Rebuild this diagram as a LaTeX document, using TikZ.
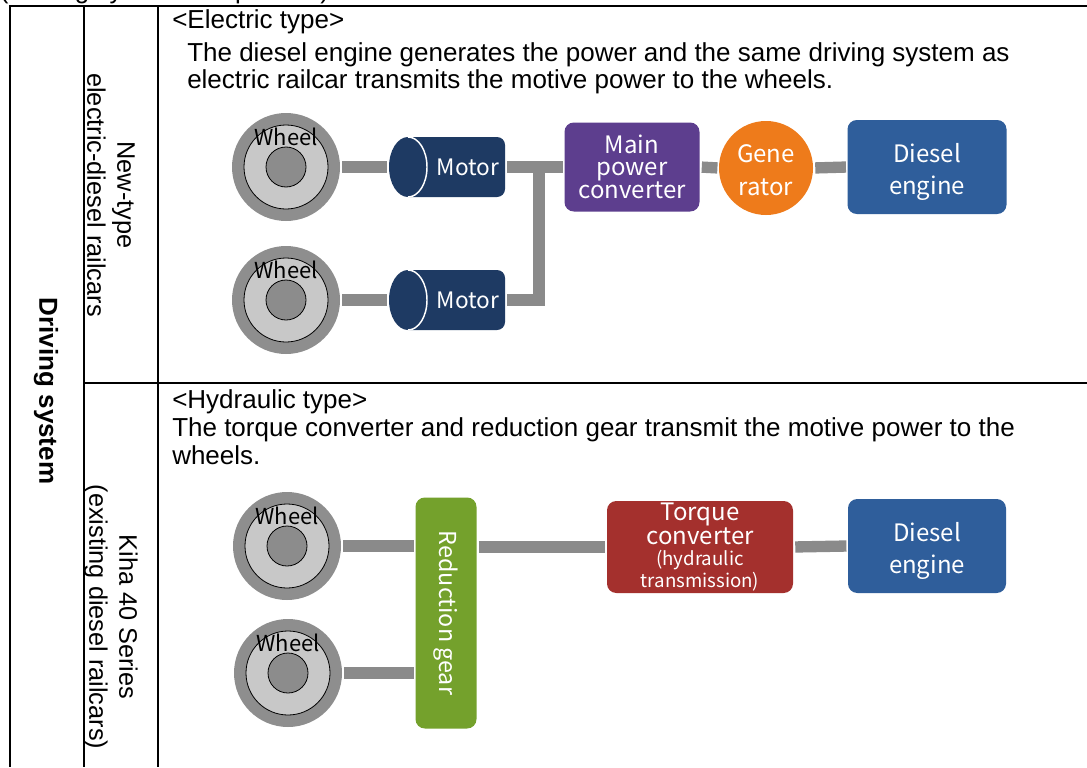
\documentclass[tikz,border=0pt]{standalone}
\usepackage{fontspec}
\setmainfont{Liberation Sans}
\newfontfamily\dfont{Noto Sans CJK JP}
\usetikzlibrary{calc}
\definecolor{navyc}{HTML}{1E3A63}
\definecolor{purplec}{HTML}{5D3E8E}
\definecolor{orangec}{HTML}{EE7B1B}
\definecolor{bluec}{HTML}{2F5E9B}
\definecolor{redc}{HTML}{A4302D}
\definecolor{greenc}{HTML}{74A12C}
\definecolor{wheelout}{HTML}{8E8E8E}
\definecolor{wheelin}{HTML}{C8C8C8}
\definecolor{hubc}{HTML}{8C8C8C}
\definecolor{barc}{HTML}{8A8A8A}
\newcommand\mkwheel[3]{%
  \node[wheelnode] (#1) at (#2,#3) {};
  \filldraw[fill=wheelin, draw=black, line width=0.6pt] (#1.center) circle[radius=42];
  \filldraw[fill=hubc, draw=black, line width=0.6pt] (#1.center) circle[radius=20];
  \node[wlbl] (#1l) at ([yshift=22.5pt]#1.center) {Wheel};
}
\newcommand\motorshape[1]{%
  \begin{scope}[shift={(#1.center)}]
    \fill[navyc] (-39,-30) -- (50,-30) arc[start angle=-90,end angle=0,radius=8]
      -- (58,22) arc[start angle=0,end angle=90,radius=8]
      -- (-39,30) arc[start angle=90,end angle=270,x radius=19,y radius=30] -- cycle;
    \draw[white, line width=1.1pt] (-39,-30) arc[start angle=-90,end angle=90,x radius=19,y radius=30];
  \end{scope}
}
\begin{document}
\begin{tikzpicture}[x=0.75pt,y=-0.75pt,
  tline/.style={line width=1.5pt, draw=black},
  txt/.style={anchor=base west, inner sep=0pt, font=\fontsize{19.5pt}{22pt}\selectfont},
  side/.style={rotate=-90, inner sep=0pt, align=center, font=\fontsize{19pt}{22.5pt}\selectfont},
  bar/.style={line width=8.5pt, draw=barc},
  gapbar/.style={bar, shorten <=1.5pt, shorten >=1pt},
  wheelnode/.style={circle, fill=wheelout, minimum size=81pt, inner sep=0pt},
  wlbl/.style={inner sep=0pt, text=black, font=\dfont\fontsize{16.5pt}{18pt}\selectfont},
  motorbox/.style={minimum width=87pt, minimum height=45pt, inner sep=0pt},
  lbl/.style={inner sep=0pt, text=white, align=center},
  boxnode/.style={rounded corners=7pt, inner sep=0pt, text=white, align=center},
]
\useasboundingbox (0,0) rectangle (1087,767);
\fill[white] (0,0) rectangle (1087,767);

% partially visible title
\node[txt] (title) at (-0.5,-1) {(Driving system comparison)};

% table
\draw[tline] (9.5,5.5) -- (9.5,767);
\draw[tline] (8.75,6) -- (1087,6);
\draw[tline] (84,6) -- (84,767);
\draw[tline] (158,6) -- (158,767);
\draw[tline] (84,383) -- (1087,383);

% left column texts
\node[side, font=\bfseries\fontsize{19.5pt}{22.5pt}\selectfont] (ds) at (46,391) {Driving system};
\node[side] (nt) at (111,195) {New-type\\electric-diesel railcars};
\node[side] (k40) at (111,617) {Kiha 40 Series\\(existing diesel railcars)};

% body texts
\node[txt] (et) at (172,29) {<Electric type>};
\node[txt] (et1) at (187,61) {The diesel engine generates the power and the same driving system as};
\node[txt] (et2) at (187,89) {electric railcar transmits the motive power to the wheels.};
\node[txt] (ht) at (172,408) {<Hydraulic type>};
\node[txt] (ht1) at (172,436) {The torque converter and reduction gear transmit the motive power to the};
\node[txt] (ht2) at (172,464) {wheels.};

% ---------- electric type diagram ----------
\mkwheel{w1}{286}{167}
\mkwheel{w2}{286}{300}

\node[motorbox] (m1) at (447,167) {};
\motorshape{m1}
\node[lbl, font=\dfont\fontsize{17pt}{20pt}\selectfont] (m1t) at ([xshift=15.75pt]m1.center) {Motor};
\node[motorbox] (m2) at (447,300) {};
\motorshape{m2}
\node[lbl, font=\dfont\fontsize{17pt}{20pt}\selectfont] (m2t) at ([xshift=15.75pt]m2.center) {Motor};

\node[boxnode, fill=purplec, minimum width=101.25pt, minimum height=66.75pt,
      font=\dfont\fontsize{18pt}{16.5pt}\selectfont] (conv) at (632,167) {Main\\power\\converter};
\node[circle, fill=orangec, minimum size=70.5pt, inner sep=0pt] (gen) at (766,168) {};
\node[lbl, font=\dfont\fontsize{18pt}{25pt}\selectfont] (gent) at ([yshift=-1.5pt]gen.center) {Gene\\rator};
\node[boxnode, fill=bluec, minimum width=119.25pt, minimum height=70.5pt] (de1) at (927,167) {};
\node[lbl, font=\dfont\fontsize{18pt}{24pt}\selectfont] (de1t) at ([yshift=-3.75pt]de1.center) {Diesel\\engine};

\coordinate (j) at (539,167);
\draw[gapbar] (w1.east) -- (m1.west);
\draw[gapbar] (w2.east) -- (m2.west);
\draw[gapbar] (m1.east) -- (conv.west);
\draw[bar, shorten <=1.5pt] (m2.east) -| (j);
\draw[gapbar] (conv.east) -- (gen.west);
\draw[gapbar] (gen.east) -- (de1.west);

% ---------- hydraulic type diagram ----------
\mkwheel{w3}{287}{546}
\mkwheel{w4}{288}{673}

\node[boxnode, fill=greenc, minimum width=45.75pt, minimum height=173.25pt] (rg) at (446,613) {};
\node[lbl, rotate=-90, font=\dfont\fontsize{17.5pt}{18pt}\selectfont] (rgt) at (rg.center) {Reduction gear};
\node[boxnode, fill=redc, minimum width=139.5pt, minimum height=69pt,
      font=\dfont\fontsize{18pt}{16.5pt}\selectfont] (tc) at (700,547)
  {Torque\\converter\\[-1pt]
   \fontsize{14pt}{15pt}\selectfont (hydraulic\\
   \fontsize{14pt}{15pt}\selectfont transmission)};
\node[boxnode, fill=bluec, minimum width=118.5pt, minimum height=70.5pt] (de2) at (927,546) {};
\node[lbl, font=\dfont\fontsize{18pt}{24pt}\selectfont] (de2t) at ([yshift=-3.75pt]de2.center) {Diesel\\engine};

\draw[gapbar] (w3.east) -- (w3.east -| rg.west);
\draw[gapbar] (w4.east) -- (w4.east -| rg.west);
\draw[gapbar] (rg.east |- tc.west) -- (tc.west);
\draw[gapbar] (tc.east) -- (de2.west);
\end{tikzpicture}
\end{document}
